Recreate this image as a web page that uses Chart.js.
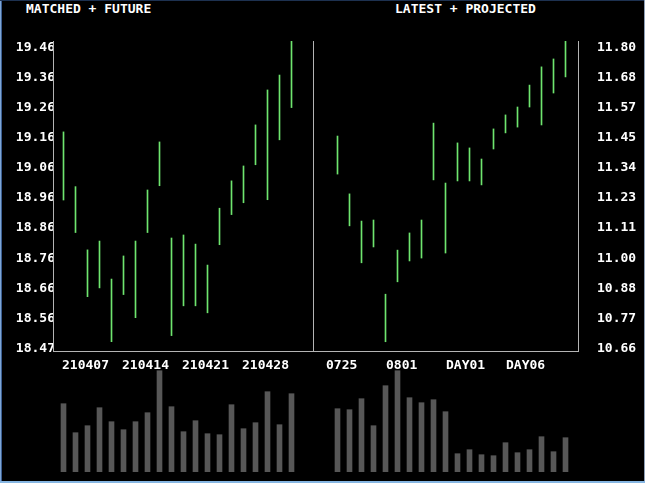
<!DOCTYPE html>
<html>
<head>
<meta charset="utf-8">
<script src="https://cdn.jsdelivr.net/npm/chart.js@4/dist/chart.umd.min.js"></script>
<style>
  html, body { margin: 0; padding: 0; background: #000; }
  body { width: 645px; height: 483px; position: relative; overflow: hidden; }
  .box { position: absolute; }
  .title { position: absolute; top: 2px; color: #fff; font: bold 13px "DejaVu Sans Mono", monospace; line-height: 13px; white-space: pre; }
  .edge { position: absolute; pointer-events: none; }
</style>
</head>
<body>
<div class="title" style="left:26px">MATCHED + FUTURE</div>
<div class="title" style="left:395px">LATEST + PROJECTED</div>

<div class="box" style="left:0;top:0;width:314px;height:380px"><canvas id="priceL"></canvas></div>
<div class="box" style="left:313px;top:0;width:332px;height:380px"><canvas id="priceR"></canvas></div>
<div class="box" style="left:0;top:370px;width:314px;height:102px"><canvas id="volL"></canvas></div>
<div class="box" style="left:313px;top:370px;width:332px;height:102px"><canvas id="volR"></canvas></div>

<div class="edge" style="left:0;top:0;width:1px;height:483px;background:#7ea6d6"></div>
<div class="edge" style="left:1px;top:0;width:1px;height:483px;background:#3c5f92"></div>
<div class="edge" style="left:0;top:0;width:645px;height:1px;background:#1d3150"></div>
<div class="edge" style="right:0;top:0;width:1px;height:483px;background:#8e9fb6"></div>
<div class="edge" style="left:0;bottom:0;width:645px;height:2px;background:#86b6e2"></div>

<script>
// ---- left panel: matched + future ----
const leftHigh = [19.161, 18.981, 18.773, 18.802, 18.677, 18.753, 18.802, 18.970, 19.128, 18.812,
                  18.822, 18.792, 18.723, 18.910, 19.000, 19.049, 19.184, 19.299, 19.348, 19.460];
const leftLow  = [18.937, 18.830, 18.619, 18.648, 18.471, 18.626, 18.550, 18.830, 18.984, 18.491,
                  18.589, 18.589, 18.566, 18.790, 18.889, 18.928, 19.053, 18.938, 19.135, 19.241];
const leftVolume = [683, 393, 463, 643, 503, 423, 503, 593, 1013, 653,
                    403, 513, 383, 373, 673, 433, 493, 803, 473, 783];
const leftDateTicks = [0, 5, 10, 15];
const leftDateLabels = ['210407', '210414', '210421', '210428'];
const leftPriceTicks = ['19.46', '19.36', '19.26', '19.16', '19.06', '18.96', '18.86', '18.76', '18.66', '18.56', '18.47'];
const leftTop = 19.46, leftBottom = 18.47;

// ---- right panel: latest + projected ----
const rightHigh = [11.440, 11.221, 11.118, 11.122, 10.841, 11.008, 11.073, 11.122, 11.489, 11.262,
                   11.414, 11.395, 11.353, 11.467, 11.520, 11.550, 11.633, 11.702, 11.732, 11.800];
const rightLow  = [11.296, 11.100, 10.960, 11.020, 10.661, 10.888, 10.967, 10.978, 11.274, 10.997,
                   11.270, 11.270, 11.255, 11.391, 11.452, 11.474, 11.550, 11.482, 11.603, 11.664];
const rightVolume = [633, 623, 733, 463, 863, 1013, 743, 693, 723, 603,
                     183, 223, 173, 163, 293, 193, 223, 353, 203, 343];
const rightDateTicks = [0, 5, 10, 15];
const rightDateLabels = ['0725', '0801', 'DAY01', 'DAY06'];
const rightPriceTicks = ['11.80', '11.68', '11.57', '11.45', '11.34', '11.23', '11.11', '11.00', '10.88', '10.77', '10.66'];
const rightTop = 11.80, rightBottom = 10.66;

const BAR_COLOR = '#6ee46e';
const AXIS_COLOR = '#b4b4b4';
const VOL_COLOR = '#575757';
const TEXT_FONT = { family: '"DejaVu Sans Mono", monospace', size: 13, weight: 'bold' };

// plot areas: 12px per bar slot
const SLOT = 12;
const PLOT_H = 310;          // price plot height
const RANGE_H = 301;         // pixels used by top..bottom of price range

function priceChart(id, high, low, tickLabels, top, bottom, dateTicks, dateLabels, side, xMin, xMax, labelShift) {
  const n = tickLabels.length;
  const step = (top - bottom) / (n - 1);
  const yMin = top - (top - bottom) * PLOT_H / RANGE_H;
  const scales = {
    x: {
      type: 'linear', min: xMin, max: xMax, offset: false,
      grid: { display: false, drawTicks: false, offset: false },
      border: { display: true, color: AXIS_COLOR, width: 1 },
      afterBuildTicks: s => { s.ticks = dateTicks.map(v => ({ value: v })); },
      afterFit: s => { s.height = 29; },
      ticks: {
        autoSkip: false, maxRotation: 0, align: 'start', padding: 7, labelOffset: labelShift,
        color: '#fff', font: TEXT_FONT,
        callback: v => dateLabels[dateTicks.indexOf(v)]
      }
    },
    y: {
      type: 'linear', position: side, min: yMin, max: top,
      grid: { display: false, drawTicks: false },
      border: { display: true, color: AXIS_COLOR, width: 1 },
      afterBuildTicks: s => { s.ticks = tickLabels.map((t, k) => ({ value: top - k * step })); },
      afterFit: s => { s.width = side === 'left' ? 53 : 67; },
      ticks: {
        autoSkip: false, padding: side === 'left' ? -2 : 19, labelOffset: 6.5,
        color: '#fff', font: TEXT_FONT,
        callback: (v, i) => tickLabels[i]
      }
    }
  };
  if (side === 'left') {
    // divider on the right edge of the left panel
    scales.edge = {
      type: 'linear', position: 'right', display: true,
      grid: { display: false, drawTicks: false },
      border: { display: true, color: AXIS_COLOR, width: 1 },
      ticks: { display: false },
      afterFit: s => { s.width = 0; }
    };
  }
  return new Chart(document.getElementById(id), {
    type: 'bar',
    data: {
      datasets: [{
        data: high.map((h, i) => ({ x: i, y: [low[i], h] })),
        backgroundColor: BAR_COLOR,
        borderWidth: 0,
        barThickness: 1,
        yAxisID: 'y'
      }]
    },
    options: {
      responsive: true, maintainAspectRatio: false, animation: false, devicePixelRatio: 1,
      layout: { padding: { top: 41, right: side === 'left' ? 1 : 0, left: 0, bottom: 0 } },
      plugins: { legend: { display: false }, tooltip: { enabled: false }, title: { display: false } },
      scales
    }
  });
}

function volumeChart(id, vols, xMin, xMax, padLeft, padRight) {
  return new Chart(document.getElementById(id), {
    type: 'bar',
    data: {
      datasets: [{
        data: vols.map((v, i) => ({ x: i, y: v })),
        backgroundColor: VOL_COLOR,
        borderWidth: 0,
        barThickness: 5
      }]
    },
    options: {
      responsive: true, maintainAspectRatio: false, animation: false, devicePixelRatio: 1,
      layout: { padding: { top: 0, bottom: 0, left: padLeft, right: padRight } },
      plugins: { legend: { display: false }, tooltip: { enabled: false } },
      scales: {
        x: { type: 'linear', display: false, min: xMin, max: xMax, offset: false, grid: { offset: false } },
        y: { display: false, min: 0, max: 1020 }
      }
    }
  });
}

// left plot: 53..313 px, first bar 10.5px in
const lxMin = -10.5 / SLOT, lxMax = lxMin + 260 / SLOT;
// right plot: 313..578 px, first bar 24.5px in
const rxMin = -24.5 / SLOT, rxMax = rxMin + 265 / SLOT;

priceChart('priceL', leftHigh, leftLow, leftPriceTicks, leftTop, leftBottom,
           leftDateTicks, leftDateLabels, 'left', lxMin, lxMax, -1.5);
priceChart('priceR', rightHigh, rightLow, rightPriceTicks, rightTop, rightBottom,
           rightDateTicks, rightDateLabels, 'right', rxMin, rxMax, -11.5);
volumeChart('volL', leftVolume, lxMin, lxMax, 53, 1);
volumeChart('volR', rightVolume, rxMin, rxMax, 0, 67);
</script>
</body>
</html>
